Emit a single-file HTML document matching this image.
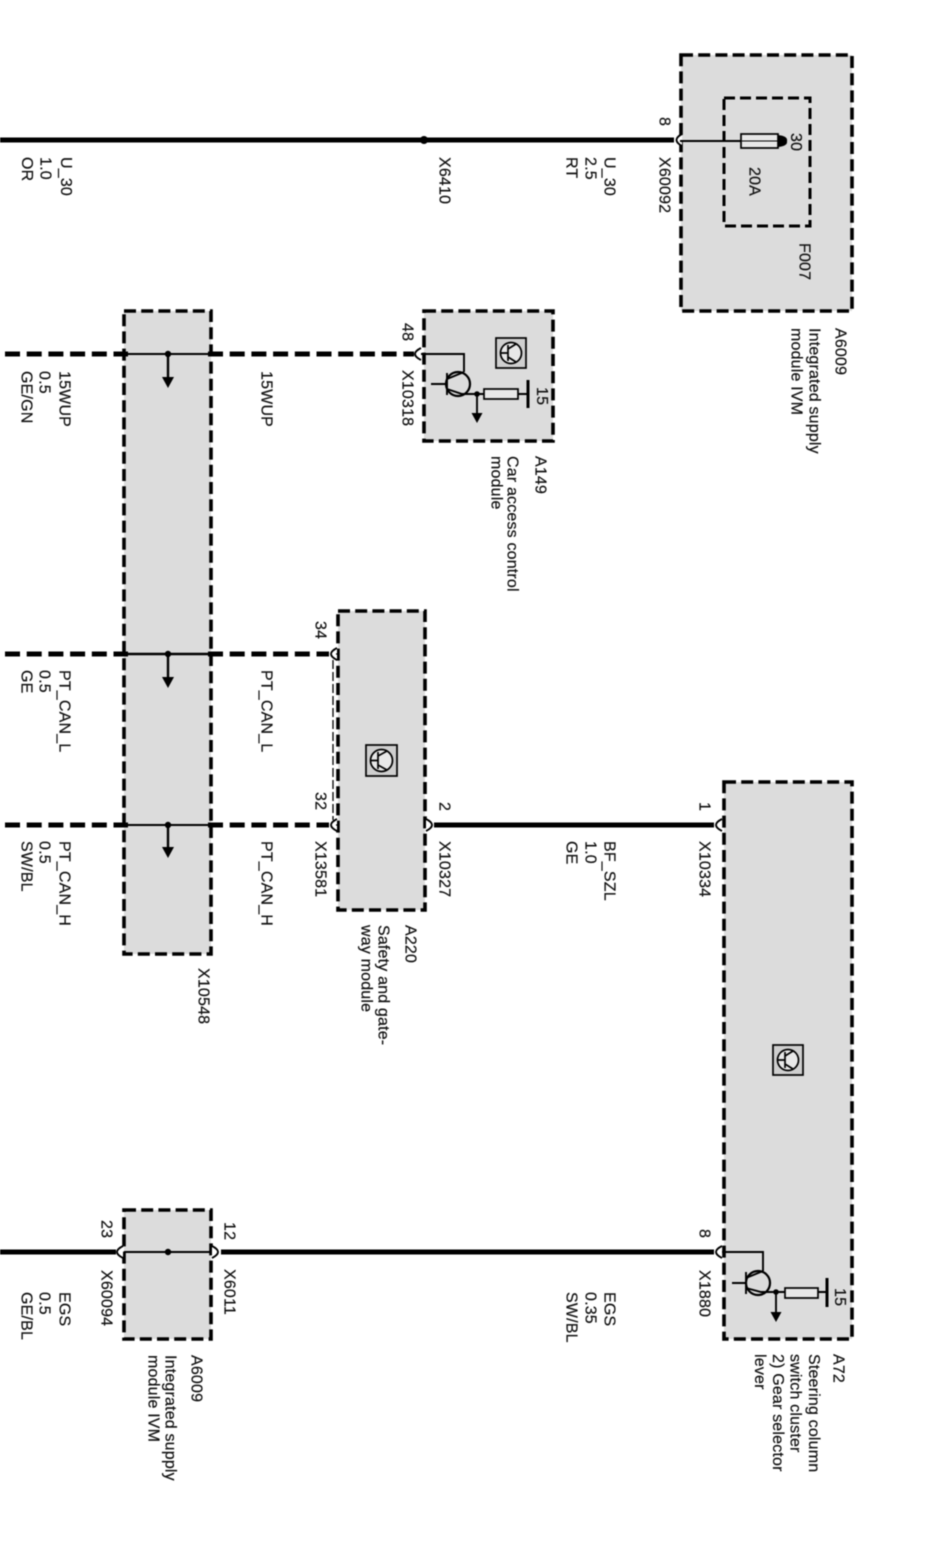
<!DOCTYPE html>
<html><head><meta charset="utf-8"><style>
html,body{margin:0;padding:0;background:#fff}
svg{display:block;filter:blur(.55px)}
text{font-family:"Liberation Sans",sans-serif;font-size:16px;fill:#111;stroke:#111;stroke-width:.2;letter-spacing:.18px}
.b{fill:#dcdcdc;stroke:#000;stroke-width:3.6;stroke-dasharray:12 5.2}
.i{fill:none;stroke:#000;stroke-width:3;stroke-dasharray:11 5}
.w{stroke:#000;stroke-width:5;fill:none}
.d{stroke:#000;stroke-width:5;fill:none;stroke-dasharray:15 6.7}
.t{stroke:#000;stroke-width:1.9;fill:none}
.cf{fill:#fff;stroke:none}
.c{fill:none;stroke:#000;stroke-width:1.9}
</style></head><body>
<svg width="931" height="1547" viewBox="0 0 931 1547" xmlns="http://www.w3.org/2000/svg">
<rect width="931" height="1547" fill="#fff"/>

<!-- boxes -->
<rect class="b" x="681" y="55" width="171" height="256"/>
<rect class="i" x="724" y="98" width="86" height="128"/>
<rect class="b" x="424" y="311" width="129" height="130"/>
<rect class="b" x="124" y="311" width="87" height="643"/>
<rect class="b" x="338" y="611" width="87" height="299"/>
<rect class="b" x="724" y="782" width="128" height="557"/>
<rect class="b" x="124" y="1210" width="87" height="129"/>

<!-- thick wires -->
<line class="w" x1="0" y1="140" x2="674" y2="140"/>
<circle cx="424" cy="140" r="4" fill="#000"/>
<line class="d" x1="5" y1="354" x2="128" y2="354"/>
<line class="d" x1="208" y1="354" x2="414" y2="354"/>
<line class="d" x1="5" y1="654" x2="128" y2="654"/>
<line class="d" x1="208" y1="654" x2="329" y2="654"/>
<line class="d" x1="5" y1="825" x2="128" y2="825"/>
<line class="d" x1="208" y1="825" x2="329" y2="825"/>
<line class="w" x1="434" y1="825" x2="714" y2="825"/>
<line class="w" x1="0" y1="1252" x2="116" y2="1252"/>
<line class="w" x1="221" y1="1252" x2="714" y2="1252"/>

<!-- connectors -->
<path class="cf" d="M682 134Q671 140 682 146Z"/><path class="c" d="M682 134Q671 140 682 146"/>
<path class="cf" d="M421 348Q409 354 421 360Z"/><path class="c" d="M421 348Q409 354 421 360"/>
<path class="cf" d="M337 648Q325 654 337 660Z"/><path class="c" d="M337 648Q325 654 337 660"/>
<path class="cf" d="M337 819Q325 825 337 831Z"/><path class="c" d="M337 819Q325 825 337 831"/>
<path class="cf" d="M426 819Q438 825 426 831Z"/><path class="c" d="M426 819Q438 825 426 831"/>
<path class="cf" d="M722 819Q710 825 722 831Z"/><path class="c" d="M722 819Q710 825 722 831"/>
<path class="cf" d="M722 1246Q710 1252 722 1258Z"/><path class="c" d="M722 1246Q710 1252 722 1258"/>
<path class="cf" d="M212 1246Q224 1252 212 1258Z"/><path class="c" d="M212 1246Q224 1252 212 1258"/>
<path class="cf" d="M123 1246Q111 1252 123 1258Z"/><path class="c" d="M123 1246Q111 1252 123 1258"/>

<!-- thin wires in X10548 -->
<line class="t" x1="124" y1="354" x2="211" y2="354"/>
<line class="t" x1="124" y1="654" x2="211" y2="654" style="stroke-width:2.6"/>
<line class="t" x1="124" y1="825" x2="211" y2="825"/>
<g fill="#000">
<circle cx="168" cy="354" r="3.2"/><circle cx="168" cy="654" r="3.2"/><circle cx="168" cy="825" r="3.2"/>
<path d="M162 377H174L168 388Z"/><path d="M162 677H174L168 688Z"/><path d="M162 847H174L168 858Z"/>
</g>
<line class="t" x1="168" y1="354" x2="168" y2="378" style="stroke-width:2.4"/>
<line class="t" x1="168" y1="654" x2="168" y2="678" style="stroke-width:2.4"/>
<line class="t" x1="168" y1="825" x2="168" y2="848" style="stroke-width:2.4"/>

<!-- X60094 -->
<line class="t" x1="124" y1="1252" x2="212" y2="1252"/>
<circle cx="168" cy="1252" r="3.2" fill="#000"/>

<!-- A220 thin dashed -->
<path d="M333 660V820" stroke="#000" stroke-width="1.3" stroke-dasharray="9 3" fill="none"/>
<path d="M336 654H339M336 825H339" stroke="#000" stroke-width="1.3" fill="none"/>

<!-- fuse -->
<line class="t" x1="680" y1="141" x2="742" y2="141"/>
<rect x="741" y="134" width="37" height="14" fill="#e8e8e8" stroke="#000" stroke-width="1.7"/>
<line x1="741" y1="141" x2="778" y2="141" stroke="#000" stroke-width="1"/>
<path d="M778 135Q788 136 787 141Q788 146 778 147Z" fill="#000"/>

<!-- A149 transistor -->
<path class="t" d="M421 354H464V372"/>
<circle class="t" cx="458" cy="384" r="12" style="stroke-width:2.2"/>
<path class="t" d="M431 384H447M447 373V395M447 379L464 372M447 389L462 394H529"/>
<rect x="484" y="389" width="34" height="10" fill="#e8e8e8" stroke="#000" stroke-width="1.7"/>
<path d="M528 380V408" stroke="#000" stroke-width="3" fill="none"/>
<line class="t" x1="477" y1="394" x2="477" y2="415"/>
<circle cx="477" cy="394" r="2.8" fill="#000"/>
<path d="M471.500 413H482.500L477 423Z" fill="#000"/>

<!-- A72 transistor -->
<path class="t" d="M722 1252H763V1271"/>
<circle class="t" cx="758" cy="1283" r="12" style="stroke-width:2.2"/>
<path class="t" d="M732 1283H746M746 1272V1294M746 1278L763 1271M746 1288L761 1292H828"/>
<rect x="785" y="1288" width="33" height="10" fill="#e8e8e8" stroke="#000" stroke-width="1.7"/>
<path d="M827 1278V1307" stroke="#000" stroke-width="3" fill="none"/>
<line class="t" x1="776" y1="1292" x2="776" y2="1314"/>
<circle cx="776" cy="1292" r="2.8" fill="#000"/>
<path d="M770.500 1312H781.500L776 1322Z" fill="#000"/>

<!-- module icons -->
<g fill="none" stroke="#000" stroke-width="1.700">
<g transform="translate(496,338)"><rect width="30" height="30" fill="#cfcfcf"/><circle cx="15" cy="15" r="10.500" fill="#e8e8e8"/><path d="M5 15H12M12 7V23M12 11L20 6M12 19L20 24"/></g>
<g transform="translate(366,745)"><rect width="31" height="31" fill="#cfcfcf"/><circle cx="15.500" cy="15.500" r="11" fill="#e8e8e8"/><path d="M5 15.500H12M12 7V24M12 11L21 6M12 20L21 25"/></g>
<g transform="translate(773,1045)"><rect width="30" height="30" fill="#cfcfcf"/><circle cx="15" cy="15" r="10.500" fill="#e8e8e8"/><path d="M5 15H12M12 7V23M12 11L20 6M12 19L20 24"/></g>
</g>

<!-- text -->
<g>
<text transform="translate(659.500,117) rotate(90)">8</text>
<text transform="translate(659.500,157) rotate(90)">X60092</text>
<text transform="translate(791,133) rotate(90)">30</text>
<text transform="translate(749.500,167) rotate(90)">20A</text>
<text transform="translate(799.500,243) rotate(90)">F007</text>
<text transform="translate(835.500,328) rotate(90)">A6009</text>
<text transform="translate(809.500,328) rotate(90)">Integrated supply</text>
<text transform="translate(791.500,328) rotate(90)">module IVM</text>
<text transform="translate(604.500,157) rotate(90)">U_30</text>
<text transform="translate(585.500,157) rotate(90)">2.5</text>
<text transform="translate(566.500,157) rotate(90)">RT</text>
<text transform="translate(439.500,157) rotate(90)">X6410</text>
<text transform="translate(61,157) rotate(90)">U_30</text>
<text transform="translate(40.500,157) rotate(90)">1.0</text>
<text transform="translate(22,157) rotate(90)">OR</text>

<text transform="translate(402.500,323) rotate(90)">48</text>
<text transform="translate(402.500,370) rotate(90)">X10318</text>
<text transform="translate(537,387) rotate(90)">15</text>
<text transform="translate(535.500,456) rotate(90)">A149</text>
<text transform="translate(507.500,456) rotate(90)">Car access control</text>
<text transform="translate(491.500,456) rotate(90)">module</text>
<text transform="translate(261.500,371) rotate(90)">15WUP</text>
<text transform="translate(59.500,371) rotate(90)">15WUP</text>
<text transform="translate(39.500,371) rotate(90)">0.5</text>
<text transform="translate(21.500,371) rotate(90)">GE/GN</text>

<text transform="translate(315.500,621) rotate(90)">34</text>
<text transform="translate(315.500,792) rotate(90)">32</text>
<text transform="translate(315.500,841) rotate(90)">X13581</text>
<text transform="translate(439.500,802) rotate(90)">2</text>
<text transform="translate(439.500,841) rotate(90)">X10327</text>
<text transform="translate(405.500,925) rotate(90)">A220</text>
<text transform="translate(378.500,925) rotate(90)">Safety and gate-</text>
<text transform="translate(361.500,925) rotate(90)">way module</text>
<text transform="translate(261.500,670) rotate(90)">PT_CAN_L</text>
<text transform="translate(59.500,670) rotate(90)">PT_CAN_L</text>
<text transform="translate(39.500,670) rotate(90)">0.5</text>
<text transform="translate(21.500,670) rotate(90)">GE</text>
<text transform="translate(261.500,841) rotate(90)">PT_CAN_H</text>
<text transform="translate(59.500,841) rotate(90)">PT_CAN_H</text>
<text transform="translate(39.500,841) rotate(90)">0.5</text>
<text transform="translate(21.500,841) rotate(90)">SW/BL</text>
<text transform="translate(198.500,968) rotate(90)">X10548</text>

<text transform="translate(604.500,841) rotate(90)">BF_SZL</text>
<text transform="translate(585.500,841) rotate(90)">1.0</text>
<text transform="translate(566.500,841) rotate(90)">GE</text>
<text transform="translate(699.500,802) rotate(90)">1</text>
<text transform="translate(699.500,841) rotate(90)">X10334</text>

<text transform="translate(699.500,1229) rotate(90)">8</text>
<text transform="translate(699.500,1270) rotate(90)">X1880</text>
<text transform="translate(835,1288) rotate(90)">15</text>
<text transform="translate(833.500,1354) rotate(90)">A72</text>
<text transform="translate(809,1354) rotate(90)">Steering column</text>
<text transform="translate(790.500,1354) rotate(90)">switch cluster</text>
<text transform="translate(773,1354) rotate(90)">2) Gear selector</text>
<text transform="translate(755,1354) rotate(90)">lever</text>
<text transform="translate(604.500,1292) rotate(90)">EGS</text>
<text transform="translate(585.500,1292) rotate(90)">0.35</text>
<text transform="translate(566.500,1292) rotate(90)">SW/BL</text>
<text transform="translate(224.500,1222) rotate(90)">12</text>
<text transform="translate(224.500,1269) rotate(90)">X6011</text>
<text transform="translate(101.500,1220) rotate(90)">23</text>
<text transform="translate(101.500,1270) rotate(90)">X60094</text>
<text transform="translate(191.500,1355) rotate(90)">A6009</text>
<text transform="translate(165.500,1355) rotate(90)">Integrated supply</text>
<text transform="translate(148.500,1355) rotate(90)">module IVM</text>
<text transform="translate(59.500,1292) rotate(90)">EGS</text>
<text transform="translate(39.500,1292) rotate(90)">0.5</text>
<text transform="translate(21.500,1292) rotate(90)">GE/BL</text>
</g>
</svg>
</body></html>
